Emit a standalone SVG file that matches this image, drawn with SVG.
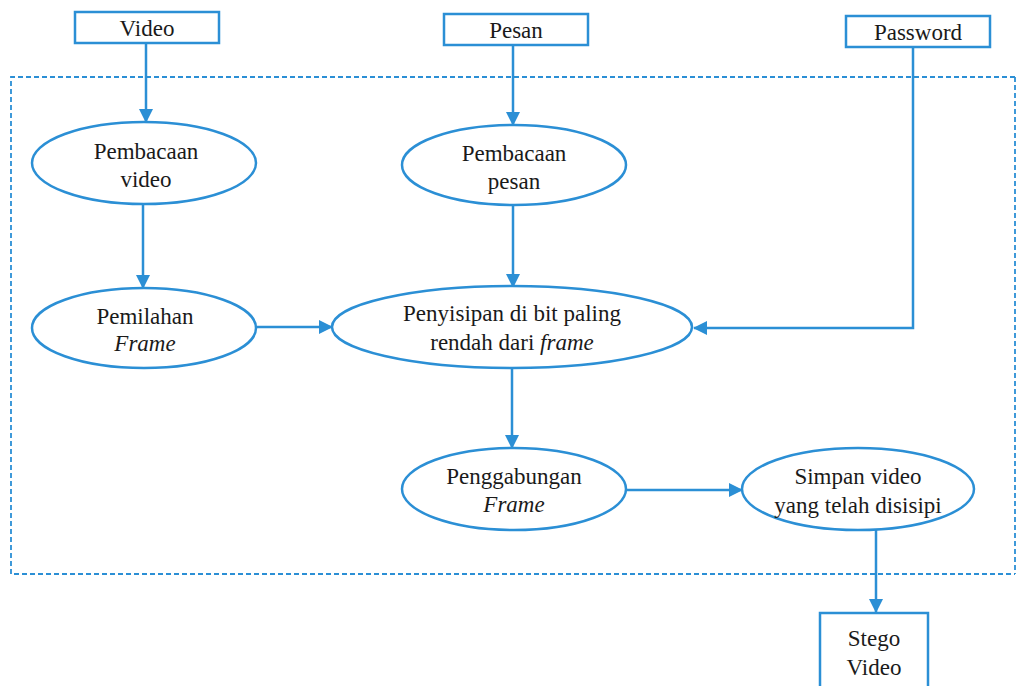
<svg xmlns="http://www.w3.org/2000/svg" width="1017" height="686" viewBox="0 0 1017 686">
  <defs>
    <style>
      .box { fill: #ffffff; stroke: #2b8fd5; stroke-width: 2.5; }
      .proc { fill: #ffffff; stroke: #2b8fd5; stroke-width: 2.5; }
      .edge { fill: none; stroke: #2b8fd5; stroke-width: 2.5; }
      .frame { fill: none; stroke: #2b8fd5; stroke-width: 1.8; stroke-dasharray: 5 3; }
      .lbl { font-family: "Liberation Serif", "Times New Roman", serif; font-size: 23px; fill: #1a1a1a; text-anchor: middle; }
      .it { font-style: italic; }
    </style>
    <marker id="arrow" viewBox="0 0 14 14" refX="13" refY="7" markerWidth="14" markerHeight="14" markerUnits="userSpaceOnUse" orient="auto">
      <path d="M0,0 L14,7 L0,14 z" fill="#2b8fd5"/>
    </marker>
  </defs>
  <rect width="1017" height="686" fill="#ffffff"/>

  <!-- dashed process boundary -->
  <path class="frame" d="M1015,77 L11,77 L11,574 L1015,574 M1015,77 L1015,574"/>

  <!-- connectors -->
  <g id="connectors">
    <line class="edge" x1="146" y1="43" x2="146" y2="122" marker-end="url(#arrow)"/>
    <line class="edge" x1="513" y1="45" x2="513" y2="125" marker-end="url(#arrow)"/>
    <line class="edge" x1="143" y1="205" x2="143" y2="288" marker-end="url(#arrow)"/>
    <line class="edge" x1="513" y1="205" x2="513" y2="287" marker-end="url(#arrow)"/>
    <line class="edge" x1="257" y1="327" x2="332" y2="327" marker-end="url(#arrow)"/>
    <polyline class="edge" points="913,47 913,328 694,328" marker-end="url(#arrow)"/>
    <line class="edge" x1="512" y1="368" x2="512" y2="448" marker-end="url(#arrow)"/>
    <line class="edge" x1="626" y1="490" x2="742" y2="490" marker-end="url(#arrow)"/>
    <line class="edge" x1="876" y1="530" x2="876" y2="612" marker-end="url(#arrow)"/>
  </g>

  <g id="video" class="lbl">
    <rect class="box" x="75" y="12" width="144" height="31"/>
    <text x="147" y="36">Video</text>
  </g>
  <g id="pesan" class="lbl">
    <rect class="box" x="444" y="14" width="144" height="31"/>
    <text x="516" y="38">Pesan</text>
  </g>
  <g id="password" class="lbl">
    <rect class="box" x="846" y="16" width="144" height="31"/>
    <text x="918" y="40">Password</text>
  </g>

  <g id="pembacaan-video" class="lbl">
    <ellipse class="proc" cx="144" cy="163" rx="112" ry="41"/>
    <text x="146" y="159">Pembacaan</text>
    <text x="146" y="187">video</text>
  </g>
  <g id="pembacaan-pesan" class="lbl">
    <ellipse class="proc" cx="514" cy="165" rx="112" ry="40"/>
    <text x="514" y="161">Pembacaan</text>
    <text x="514" y="189">pesan</text>
  </g>
  <g id="pemilahan-frame" class="lbl">
    <ellipse class="proc" cx="144" cy="328" rx="112" ry="40"/>
    <text x="145" y="324">Pemilahan</text>
    <text x="145" y="351" class="it">Frame</text>
  </g>
  <g id="penyisipan" class="lbl">
    <ellipse class="proc" cx="512" cy="327" rx="180" ry="41"/>
    <text x="512" y="321">Penyisipan di bit paling</text>
    <text x="512" y="350">rendah dari <tspan class="it">frame</tspan></text>
  </g>
  <g id="penggabungan-frame" class="lbl">
    <ellipse class="proc" cx="514" cy="489" rx="112" ry="41"/>
    <text x="514" y="484">Penggabungan</text>
    <text x="514" y="512" class="it">Frame</text>
  </g>
  <g id="simpan-video" class="lbl">
    <ellipse class="proc" cx="858" cy="489" rx="116" ry="41"/>
    <text x="858" y="484">Simpan video</text>
    <text x="858" y="513">yang telah disisipi</text>
  </g>
  <g id="stego-video" class="lbl">
    <rect class="box" x="820" y="613" width="108" height="80"/>
    <text x="874" y="646">Stego</text>
    <text x="874" y="675">Video</text>
  </g>
</svg>
